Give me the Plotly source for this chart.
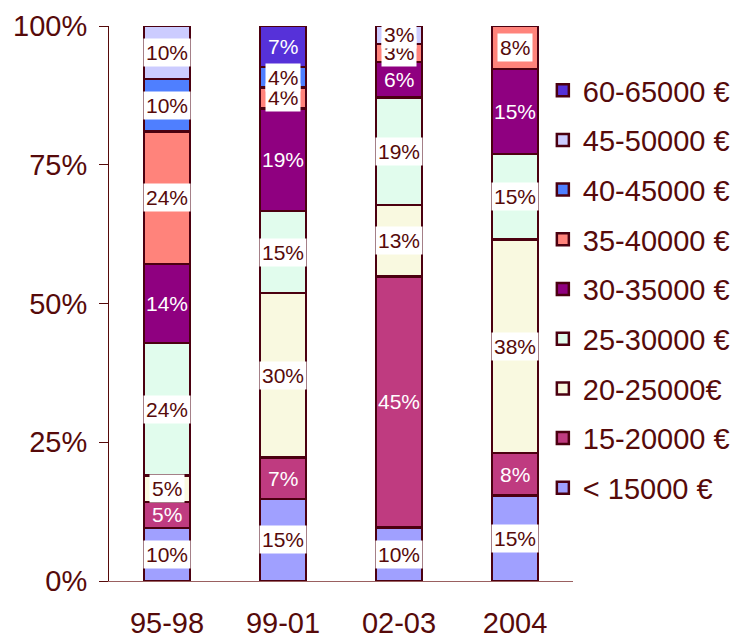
import plotly.graph_objects as go

# ---- data (percent of each period) ----
categories = ["95-98", "99-01", "02-03", "2004"]
series_names = ["< 15000 €", "15-20000 €", "20-25000€", "25-30000 €", "30-35000 €",
                "35-40000 €", "40-45000 €", "45-50000 €", "60-65000 €"]
lt_15000 = [9.52, 14.81, 9.68, 15.38]
s15_20000 = [4.76, 7.41, 45.16, 7.69]
s20_25000 = [4.76, 29.63, 12.90, 38.46]
s25_30000 = [23.81, 14.81, 19.35, 15.38]
s30_35000 = [14.29, 18.52, 6.45, 15.38]
s35_40000 = [23.81, 3.70, 3.23, 7.69]
s40_45000 = [9.52, 3.70, None, None]
s45_50000 = [9.52, None, 3.23, None]
s60_65000 = [None, 7.41, None, None]
y_ticks = [0, 25, 50, 75, 100]
y_tick_labels = ["0%", "25%", "50%", "75%", "100%"]

series_values = [lt_15000, s15_20000, s20_25000, s25_30000, s30_35000,
                 s35_40000, s40_45000, s45_50000, s60_65000]

# ---- style ----
colors = ["#a0a0ff", "#bf3b80", "#f9f9e0", "#e1fced", "#8f0080",
          "#ff837b", "#4f7fff", "#ccccff", "#5631d9"]
white_label = [False, True, False, False, True, False, False, False, True]
TXT = "#560a0a"
OUTLINE = "#4b0010"
FONT = "Liberation Sans, Arial, sans-serif"

fig = go.Figure()
n = len(series_names)
for i, (name, vals, col) in enumerate(zip(series_names, series_values, colors)):
    fig.add_trace(go.Bar(
        x=categories, y=vals, name=name, legendgroup=name, legendrank=100 + n - i,
        marker=dict(color=col, line=dict(color=OUTLINE, width=2.5)),
        width=0.4, hoverinfo="skip",
    ))

# value labels, centred on each segment (x given as category index)
annotations = []
for ci, cat in enumerate(categories):
    base = 0.0
    for si, vals in enumerate(series_values):
        v = vals[ci]
        if v is None:
            continue
        mid = base + v / 2
        base += v
        if white_label[si]:
            annotations.append(dict(x=ci, y=mid, xref="x", yref="y",
                                    text=f"{round(v)}%", showarrow=False,
                                    font=dict(size=21, color="white", family=FONT)))
        else:
            annotations.append(dict(x=ci, y=mid, xref="x", yref="y",
                                    text=f"{round(v)}%", showarrow=False,
                                    bgcolor="white", borderpad=2,
                                    font=dict(size=21, color=TXT, family=FONT)))

fig.update_layout(
    barmode="stack",
    width=737, height=636,
    margin=dict(l=109, r=164, t=26, b=55, autoexpand=False),
    paper_bgcolor="white", plot_bgcolor="white",
    font=dict(family=FONT, size=29, color=TXT),
    showlegend=True,
    legend=dict(x=0.935, xanchor="left", y=0.93, yanchor="top",
                traceorder="grouped", tracegroupgap=9,
                font=dict(size=29, color=TXT), itemwidth=30,
                bgcolor="rgba(0,0,0,0)"),
    annotations=annotations,
    xaxis=dict(type="category", range=[-0.5, len(categories) - 0.5],
               showline=True, linecolor="#9a6060", linewidth=1,
               ticks="", showgrid=False, ticklabelstandoff=16,
               tickfont=dict(size=29, color=TXT)),
    yaxis=dict(range=[0, 100], tickvals=y_ticks, ticktext=y_tick_labels,
               showline=True, linecolor=TXT, linewidth=1,
               ticks="outside", ticklen=9, tickcolor=TXT, tickwidth=1,
               showgrid=False, zeroline=False, ticklabelstandoff=6,
               tickfont=dict(size=29, color=TXT)),
)

fig.write_html("out.html", config={"displayModeBar": False},
               post_script="document.body.style.margin='0';document.body.style.overflow='hidden';")
